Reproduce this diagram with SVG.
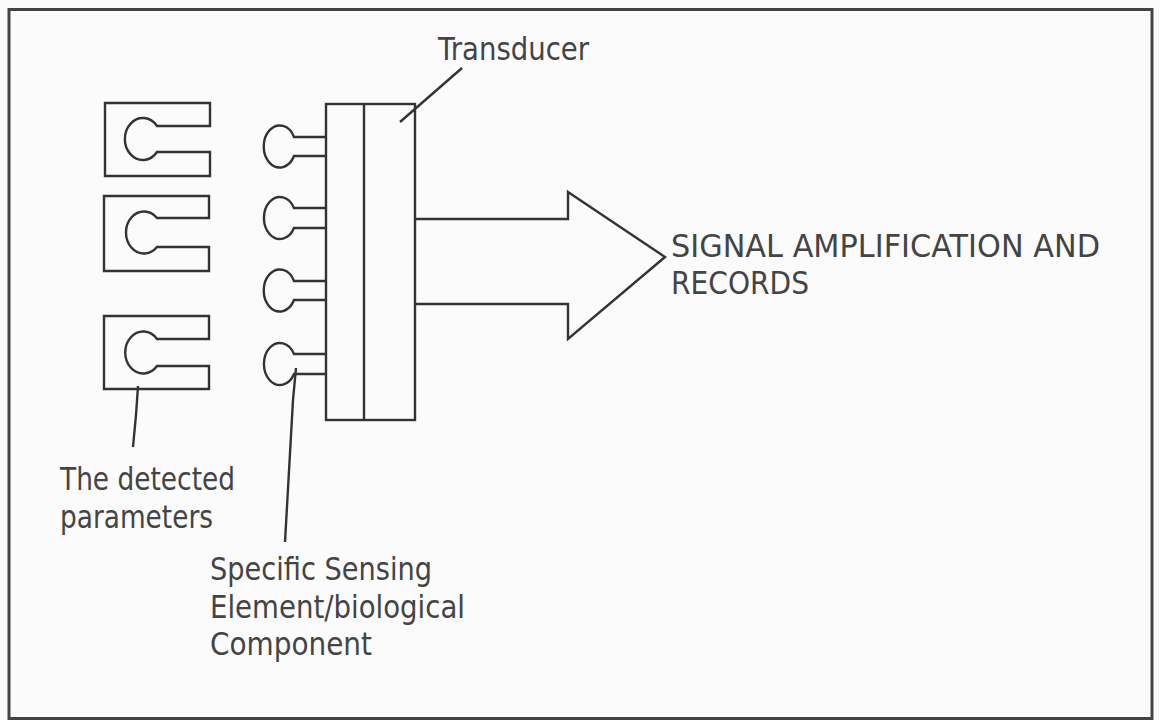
<svg xmlns="http://www.w3.org/2000/svg" width="1160" height="720" viewBox="0 0 1160 720">
<style>
.ln{fill:none;stroke:#333;stroke-width:2.4;stroke-linejoin:miter}
.frame{fill:none;stroke:#444;stroke-width:3}
.t{font-family:"DejaVu Sans","Liberation Sans",sans-serif;font-size:32px;fill:#444}
</style>
<rect width="1160" height="720" fill="#fbfbfb"/>
<rect class="frame" x="9" y="9.5" width="1143" height="709"/>
<g id="param1"><path class="ln" d="M210,126 H157 A18,21 0 1 0 157,152 H210 V176 H105 V103 H210 Z"/></g>
<g id="param2"><path class="ln" d="M209,218 H157 A18,21 0 1 0 157,247 H209 V271 H104 V196 H209 Z"/></g>
<g id="param3"><path class="ln" d="M209,339 H157 A18,21 0 1 0 157,366 H209 V389 H104 V316 H209 Z"/></g>
<g id="sensor1"><path class="ln" d="M326,137 H294 A16,21 0 1 0 294,156 H326"/></g>
<g id="sensor2"><path class="ln" d="M326,208 H294 A16,21 0 1 0 294,228 H326"/></g>
<g id="sensor3"><path class="ln" d="M326,281 H294 A16,21 0 1 0 294,300 H326"/></g>
<g id="sensor4"><path class="ln" d="M326,354 H294 A16,21 0 1 0 294,374 H326"/></g>
<g id="transducer">
<rect class="ln" x="326" y="104" width="89" height="316"/>
<line class="ln" x1="364" y1="104" x2="364" y2="420"/>
</g>
<g id="output-arrow"><path class="ln" d="M415,219 H568 V192 L665,257 L568,339 V304 H415"/></g>
<g id="connectors">
<path class="ln" d="M400,122 L462,68"/>
<path class="ln" d="M138,386 L136,415 L133,447"/>
<path class="ln" d="M296,368 L293,400 L285,542"/>
</g>
<g id="labels">
<text class="t" x="438" y="60" textLength="151" lengthAdjust="spacingAndGlyphs">Transducer</text>
<text class="t" x="671" y="257" textLength="429" lengthAdjust="spacingAndGlyphs">SIGNAL AMPLIFICATION AND</text>
<text class="t" x="671" y="294" textLength="138" lengthAdjust="spacingAndGlyphs">RECORDS</text>
<text class="t" x="60" y="490" textLength="175" lengthAdjust="spacingAndGlyphs">The detected</text>
<text class="t" x="60" y="528" textLength="153" lengthAdjust="spacingAndGlyphs">parameters</text>
<text class="t" x="210" y="580" textLength="222" lengthAdjust="spacingAndGlyphs">Specific Sensing</text>
<text class="t" x="210" y="618" textLength="255" lengthAdjust="spacingAndGlyphs">Element/biological</text>
<text class="t" x="210" y="655" textLength="162" lengthAdjust="spacingAndGlyphs">Component</text>
</g>
</svg>
